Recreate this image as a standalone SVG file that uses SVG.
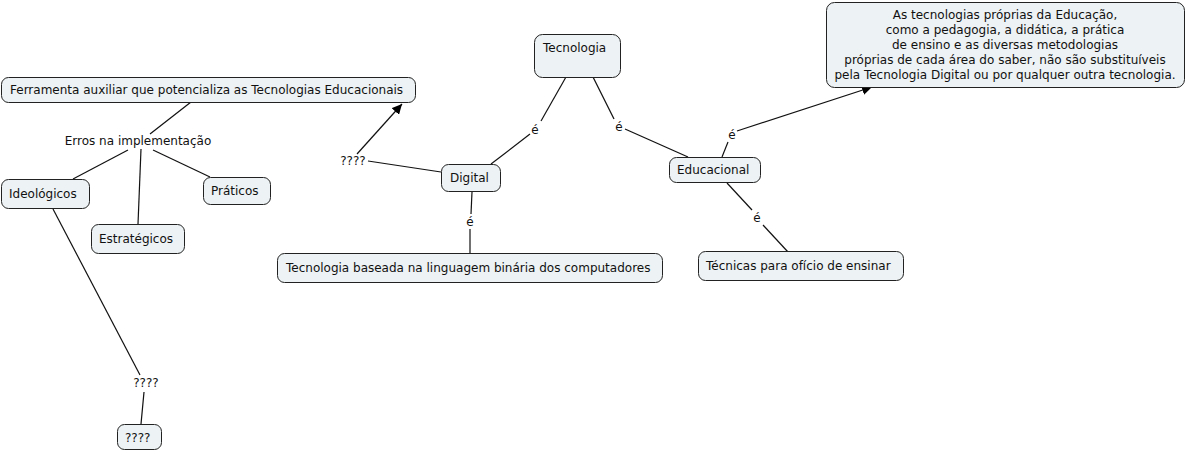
<svg xmlns="http://www.w3.org/2000/svg" width="1187" height="452" viewBox="0 0 1187 452">
<defs>
<style>
.n{fill:#edf2f4;stroke:#222;stroke-width:1}
.t{font-family:"DejaVu Sans",Verdana,sans-serif;font-size:12px;fill:#111}
.l{font-family:"DejaVu Sans",Verdana,sans-serif;font-size:12px;fill:#111;text-anchor:middle}
.c{stroke:#111;stroke-width:1.2;fill:none}
</style>
<marker id="ah" viewBox="0 0 10 10" refX="10" refY="5" markerWidth="10" markerHeight="10" markerUnits="userSpaceOnUse" orient="auto">
<path d="M0,0 L10,5 L0,10 z" fill="#000"/>
</marker>
</defs>
<rect width="1187" height="452" fill="#fff"/>
<g id="connectors">
<line class="c" x1="191" y1="102" x2="150" y2="134"/>
<line class="c" x1="128" y1="150" x2="73" y2="179"/>
<line class="c" x1="141" y1="149" x2="138" y2="224"/>
<line class="c" x1="153" y1="150" x2="210" y2="177"/>
<line class="c" x1="53" y1="209" x2="140" y2="375"/>
<line class="c" x1="144" y1="392" x2="141" y2="424"/>
<line class="c" x1="441" y1="172" x2="368" y2="161"/>
<line class="c" x1="357" y1="154" x2="402" y2="104" marker-end="url(#ah)"/>
<line class="c" x1="491" y1="164" x2="530" y2="134"/>
<line class="c" x1="541" y1="121" x2="566" y2="77"/>
<line class="c" x1="593" y1="77" x2="614" y2="119"/>
<line class="c" x1="625" y1="129" x2="688" y2="157"/>
<line class="c" x1="722" y1="157" x2="728" y2="142"/>
<line class="c" x1="737" y1="131" x2="872" y2="87" marker-end="url(#ah)"/>
<line class="c" x1="727" y1="183" x2="752" y2="210"/>
<line class="c" x1="763" y1="225" x2="788" y2="252"/>
<line class="c" x1="472" y1="192" x2="471" y2="214"/>
<line class="c" x1="470" y1="229" x2="470" y2="253"/>
<text class="l" x="138" y="145">Erros na implementação</text>
<text class="l" x="146" y="387">????</text>
<text class="l" x="353" y="165">????</text>
<text class="l" x="535" y="134">é</text>
<text class="l" x="619" y="131">é</text>
<text class="l" x="732" y="139">é</text>
<text class="l" x="757" y="222">é</text>
<text class="l" x="470" y="226">é</text>
</g>
<g id="ferramenta"><rect class="n" x="1.5" y="77.5" width="414" height="25" rx="7"/><text class="t" x="10" y="94">Ferramenta auxiliar que potencializa as Tecnologias Educacionais</text></g>
<g id="ideologicos"><rect class="n" x="1.5" y="179.5" width="88" height="29" rx="7"/><text class="t" x="9" y="198">Ideológicos</text></g>
<g id="estrategicos"><rect class="n" x="91.5" y="224.5" width="93" height="29" rx="7"/><text class="t" x="99" y="243">Estratégicos</text></g>
<g id="praticos"><rect class="n" x="203.5" y="177.5" width="67" height="27" rx="7"/><text class="t" x="211" y="195">Práticos</text></g>
<g id="q"><rect class="n" x="117.5" y="424.5" width="44" height="25" rx="7"/><text class="t" x="125" y="442">????</text></g>
<g id="digital"><rect class="n" x="441.5" y="164.5" width="59" height="27" rx="7"/><text class="t" x="450" y="182">Digital</text></g>
<g id="tecnologia"><rect class="n" x="534.5" y="34.5" width="86" height="43" rx="8"/><text class="t" x="543" y="52">Tecnologia</text></g>
<g id="binaria"><rect class="n" x="277.5" y="253.5" width="385" height="29" rx="7"/><text class="t" x="286" y="272">Tecnologia baseada na linguagem binária dos computadores</text></g>
<g id="educacional"><rect class="n" x="669.5" y="157.5" width="91" height="25" rx="7"/><text class="t" x="677" y="174">Educacional</text></g>
<g id="tecnicas"><rect class="n" x="698.5" y="251.5" width="205" height="29" rx="7"/><text class="t" x="706" y="270">Técnicas para ofício de ensinar</text></g>
<g id="tecnologias-proprias"><rect class="n" x="826.5" y="2.5" width="358" height="85" rx="8"/>
<text class="l" x="1005" y="19">As tecnologias próprias da Educação,</text>
<text class="l" x="1005" y="34">como a pedagogia, a didática, a prática</text>
<text class="l" x="1005" y="49">de ensino e as diversas metodologias</text>
<text class="l" x="1005" y="64">próprias de cada área do saber, não são substituíveis</text>
<text class="l" x="1005" y="79">pela Tecnologia Digital ou por qualquer outra tecnologia.</text>
</g>
</svg>
